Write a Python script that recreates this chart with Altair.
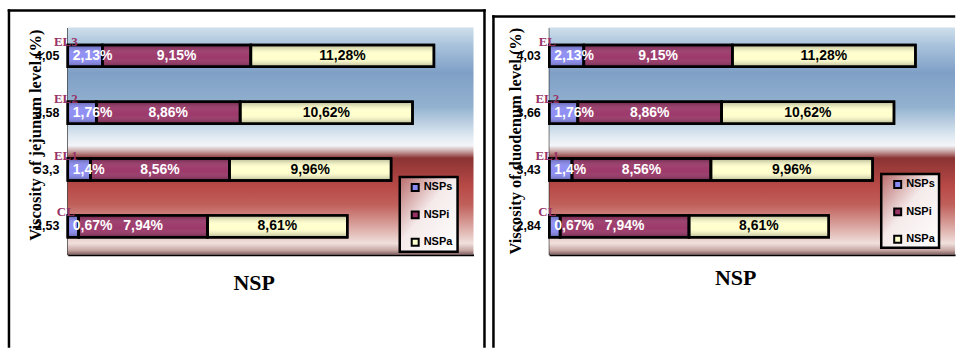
import altair as alt
import pandas as pd

groups = ["EL3", "EL2", "EL1", "CL"]
group_labels_jejunum = ["EL3", "EL2", "EL1", "CL"]
group_labels_duodenum = ["EL", "EL2", "EL1", "CL"]
viscosity_jejunum = ["4,05", "3,58", "3,3", "2,53"]
viscosity_duodenum = ["4,03", "3,66", "3,43", "2,84"]
series = ["NSPs", "NSPi", "NSPa"]
nsps = [2.13, 1.76, 1.4, 0.67]
nspi = [9.15, 8.86, 8.56, 7.94]
nspa = [11.28, 10.62, 9.96, 8.61]
series_colors = ["#8a8af4", "#993366", "#ffffcc"]

W, H = 407, 228
SANS = "Liberation Sans"
SERIF = "Liberation Serif"

bg_stops = [(0.0, "#cfe0ec"), (0.08, "#a8c2db"), (0.2, "#7f9fc6"), (0.35, "#93b2d0"),
            (0.48, "#e0eaf2"), (0.52, "#f3f5f8"), (0.545, "#c9a5a5"), (0.575, "#8b3333"),
            (0.7, "#b84a47"), (0.78, "#c0605b"), (0.88, "#dca9a4"), (0.95, "#f0e0dd"),
            (0.98, "#c8a8a4"), (1.0, "#806060")]
shade_stops = [(0.0, "rgba(0,0,0,0.3)"), (0.4, "rgba(255,255,255,0.06)"),
               (0.6, "rgba(255,255,255,0.03)"), (1.0, "rgba(0,0,0,0.3)")]
legend_stops = [(0.0, "#b86a6a"), (0.45, "#f5eaea"), (1.0, "#ffffff")]


def grad(stops, x1=0, y1=0, x2=0, y2=1):
    return alt.LinearGradient(
        gradient="linear",
        stops=[alt.GradientStop(color=c, offset=o) for o, c in stops],
        x1=x1, y1=y1, x2=x2, y2=y2,
    )


one = pd.DataFrame({"k": [0]})


def hline(xa, xb, y):
    return alt.Chart(one).mark_rule(stroke="black", strokeWidth=2.5, strokeCap="square").encode(
        x=alt.value(xa), x2=alt.value(xb), y=alt.value(y))


def vline(x, ya, yb):
    return alt.Chart(one).mark_rule(stroke="black", strokeWidth=2.5, strokeCap="square").encode(
        x=alt.value(x), y=alt.value(ya), y2=alt.value(yb))


def panel(visc, glabels, ytitle, frame_parts, legend_box, legend_pos, xtitle_pos, ytitle_pos):
    rows = []
    for i, g in enumerate(groups):
        for j, (s, vals) in enumerate(zip(series, [nsps, nspi, nspa])):
            v = vals[i]
            rows.append(dict(group=g, visc=visc[i], glabel=glabels[i], series=s, order=j,
                             value=v, label=f"{v:g}".replace(".", ",") + "%"))
    df = pd.DataFrame(rows)

    xs = alt.Scale(domain=[0, 25], nice=False, zero=True)
    xaxis = alt.Axis(title=None, labels=False, ticks=False, grid=False,
                     domainColor="black", domainWidth=2)
    ys = alt.Scale(domain=visc, paddingInner=0, paddingOuter=0)
    Y = alt.Y("visc:N", scale=ys,
              axis=alt.Axis(title=None, ticks=False, grid=False, domainColor="black",
                            domainWidth=2, labelFont=SANS, labelFontSize=12.5,
                            labelFontWeight="bold", labelColor="black", labelPadding=9))

    def X(f):
        return alt.X(f, scale=xs, axis=xaxis)

    base = alt.Chart(df).transform_stack(
        stack="value", groupby=["visc"], as_=["x0", "x1"],
        sort=[alt.SortField("order", order="ascending")],
    ).transform_calculate(mid="(datum.x0 + datum.x1) / 2")

    bg = alt.Chart(one).mark_rect(fill=grad(bg_stops)).encode(
        x=alt.value(0), x2=alt.value(W), y=alt.value(0), y2=alt.value(H))
    top = alt.Chart(one).mark_rule(stroke="white", strokeWidth=1).encode(
        x=alt.value(0), x2=alt.value(1), y=alt.value(-20))

    bars = base.mark_bar(size=22, stroke="black", strokeWidth=2.5).encode(
        x=X("x0:Q"), x2="x1:Q", y=Y,
        color=alt.Color("series:N", scale=alt.Scale(domain=series, range=series_colors),
                        legend=alt.Legend(orient="none", legendX=legend_pos[0], legendY=legend_pos[1],
                                          title=None, symbolType="square", symbolSize=49,
                                          symbolStrokeColor="black", symbolStrokeWidth=2,
                                          symbolOpacity=1, labelFont=SANS, labelFontSize=11,
                                          labelFontWeight="bold", labelColor="black",
                                          rowPadding=12.5, padding=0, labelOffset=3)),
    )
    shade = base.mark_bar(size=22, fill=grad(shade_stops), strokeWidth=0).encode(
        x=X("x0:Q"), x2="x1:Q", y=Y)
    outline = base.mark_bar(size=22, fillOpacity=0, stroke="black", strokeWidth=2.5).encode(
        x=X("x0:Q"), x2="x1:Q", y=Y)

    txt = dict(font=SANS, fontSize=14, fontWeight="bold", baseline="middle")
    lab_s = base.transform_filter(alt.datum.series == "NSPs").mark_text(
        align="left", dx=5, color="white", **txt).encode(x=X("x0:Q"), y=Y, text="label:N")
    lab_i = base.transform_filter(alt.datum.series == "NSPi").mark_text(
        align="center", color="white", **txt).encode(x=X("mid:Q"), y=Y, text="label:N")
    lab_a = base.transform_filter(alt.datum.series == "NSPa").mark_text(
        align="center", color="black", **txt).encode(x=X("mid:Q"), y=Y, text="label:N")
    glab = base.transform_filter(alt.datum.series == "NSPs").mark_text(
        font=SERIF, fontSize=13, fontWeight="bold", color="#993366", align="center",
        baseline="middle", dy=-14).encode(x=alt.value(-2), y=Y, text="glabel:N")

    yt = alt.Chart(one).mark_text(text=ytitle, angle=270, font=SERIF, fontSize=16.5,
                                  fontWeight="bold", color="black", align="center",
                                  baseline="middle").encode(
        x=alt.value(ytitle_pos[0]), y=alt.value(ytitle_pos[1]))
    xt = alt.Chart(one).mark_text(text="NSP", font=SERIF, fontSize=22, fontWeight="bold",
                                  color="black", align="center", baseline="middle").encode(
        x=alt.value(xtitle_pos[0]), y=alt.value(xtitle_pos[1]))
    lb = alt.Chart(one).mark_rect(fill=grad(legend_stops, 0, 0, 1, 1), stroke="black",
                                  strokeWidth=2.5).encode(
        x=alt.value(legend_box[0]), x2=alt.value(legend_box[1]),
        y=alt.value(legend_box[2]), y2=alt.value(legend_box[3]))

    return alt.layer(bg, top, *frame_parts, bars, shade, outline, lab_s, lab_i, lab_a, glab,
                     yt, xt, lb).properties(width=W, height=H)


BOTTOM = 320
left = panel(viscosity_jejunum, group_labels_jejunum, "Viscosity of jejunum level (%)",
             frame_parts=[hline(-59, 418, -17), vline(-59, -17, BOTTOM), vline(418, -17, BOTTOM)],
             legend_box=(333, 391, 150, 225),
             legend_pos=(343, 155), xtitle_pos=(187, 256), ytitle_pos=(-32, 108))
right = panel(viscosity_duodenum, group_labels_duodenum, "Viscosity of duodenum level (%)",
              frame_parts=[hline(-56, 406, -11), vline(-56, -11, BOTTOM)],
              legend_box=(333, 391, 147, 221),
              legend_pos=(344, 152), xtitle_pos=(187, 251), ytitle_pos=(-33, 114))

chart = alt.hconcat(left, right, spacing=5).resolve_scale(
    color="independent", x="independent", y="independent"
).resolve_legend(color="independent").properties(
    padding={"left": 7, "top": 6, "right": 0, "bottom": 0}, background="white"
).configure_view(strokeWidth=0)

chart.save("out.html", embed_options={"renderer": "svg", "actions": False})
